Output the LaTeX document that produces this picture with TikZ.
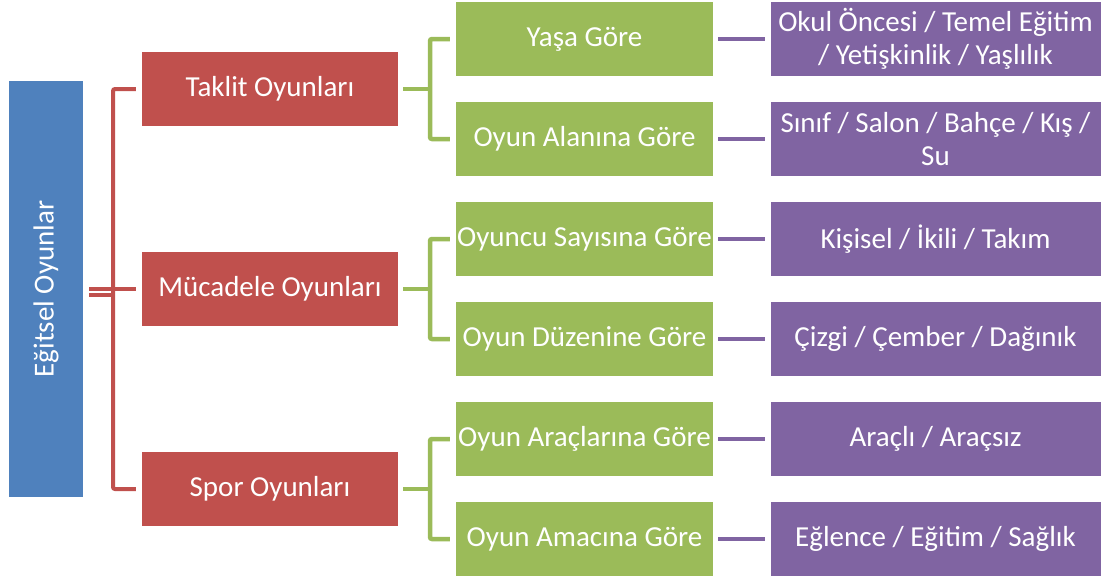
\documentclass[tikz,border=0pt]{standalone}
\usepackage{fontspec}
\setmainfont{Carlito}
\definecolor{cblue}{HTML}{4F81BD}
\definecolor{cred}{HTML}{C0504D}
\definecolor{cgreen}{HTML}{9BBB59}
\definecolor{cpurple}{HTML}{8064A2}
\begin{document}
\begin{tikzpicture}[x=1pt,y=-1pt,
  box/.style={inner sep=0pt, text=white, align=center,
    font=\fontsize{29}{33}\selectfont, minimum height=74pt},
  bluebox/.style={box, fill=cblue, minimum width=74pt, minimum height=416pt},
  redbox/.style={box, fill=cred, minimum width=256pt},
  greenbox/.style={box, fill=cgreen, minimum width=257pt},
  purplebox/.style={box, fill=cpurple, minimum width=330pt},
  redline/.style={draw=cred, line width=4pt, rounded corners=2pt},
  greenline/.style={draw=cgreen, line width=4.5pt, rounded corners=2pt},
  purpleline/.style={draw=cpurple, line width=4pt}]
\useasboundingbox[fill=white] (0,0) rectangle (1107,579);

\node[bluebox] (b) at (46,289) {};
\node[rotate=90, text=white, font=\fontsize{29}{33}\selectfont] (bt) at (b.center) {Eğitsel Oyunlar};

\node[redbox] (r1) at (270,89) {Taklit Oyunları};
\node[redbox] (r2) at (270,289) {Mücadele Oyunları};
\node[redbox] (r3) at (270,489) {Spor Oyunları};

\node[greenbox] (g1) at (584.5,39) {Yaşa Göre};
\node[greenbox] (g2) at (584.5,139) {Oyun Alanına Göre};
\node[greenbox] (g3) at (584.5,239) {Oyuncu Sayısına Göre};
\node[greenbox] (g4) at (584.5,339) {Oyun Düzenine Göre};
\node[greenbox] (g5) at (584.5,439) {Oyun Araçlarına Göre};
\node[greenbox] (g6) at (584.5,539) {Oyun Amacına Göre};

\node[purplebox] (p1) at (935.5,39) {Okul Öncesi / Temel Eğitim\\/ Yetişkinlik / Yaşlılık};
\node[purplebox] (p2) at (935.5,139) {Sınıf / Salon / Bahçe / Kış /\\Su};
\node[purplebox] (p3) at (935.5,239) {Kişisel / İkili / Takım};
\node[purplebox] (p4) at (935.5,339) {Çizgi / Çember / Dağınık};
\node[purplebox] (p5) at (935.5,439) {Araçlı / Araçsız};
\node[purplebox] (p6) at (935.5,539) {Eğlence / Eğitim / Sağlık};

% red bracket
\coordinate (rb) at (113,289);
\draw[redline] ([xshift=-6pt]r1.west) -| (rb) |- ([xshift=-6pt]r3.west);
\draw[redline] ([xshift=6pt]b.east) -- ([xshift=-6pt]r2.west);
\draw[redline] ([xshift=6pt,yshift=-6pt]b.east) -- ([yshift=-6pt]rb);

% green brackets
\coordinate (gb1) at (430,89);
\coordinate (gb2) at (430,289);
\coordinate (gb3) at (430,489);
\draw[greenline] ([xshift=5pt]r1.east) -- (gb1);
\draw[greenline] ([xshift=-6pt]g1.west) -| (gb1) |- ([xshift=-6pt]g2.west);
\draw[greenline] ([xshift=5pt]r2.east) -- (gb2);
\draw[greenline] ([xshift=-6pt]g3.west) -| (gb2) |- ([xshift=-6pt]g4.west);
\draw[greenline] ([xshift=5pt]r3.east) -- (gb3);
\draw[greenline] ([xshift=-6pt]g5.west) -| (gb3) |- ([xshift=-6pt]g6.west);

% purple connectors
\foreach \i in {1,...,6}{
  \draw[purpleline] ([xshift=5pt]g\i.east) -- ([xshift=-5pt]p\i.west);
}
\end{tikzpicture}
\end{document}
